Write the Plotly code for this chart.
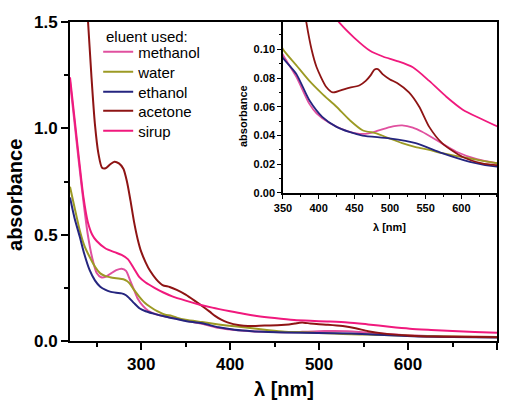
import plotly.graph_objects as go

# UV-Vis spectra of extracts obtained with different eluents
names = ["methanol", "water", "ethanol", "acetone", "sirup"]
colors = ["#e0509f", "#9c9a24", "#25257f", "#8e1414", "#f0197d"]

lam_methanol = [220, 225, 230, 235, 240, 245, 250, 255, 260, 265, 272, 278, 283, 288, 292, 296,
                302, 308, 315, 322, 330, 340, 350, 368.5, 387, 397, 416, 440, 457, 470, 481,
                494, 506, 517, 532, 545, 569, 593, 622, 650, 675, 700]
abs_methanol = [1.22, 1.03, 0.84, 0.66, 0.50, 0.39, 0.32, 0.30, 0.302, 0.315, 0.333, 0.340, 0.33,
                0.28, 0.24, 0.20, 0.165, 0.142, 0.128, 0.12, 0.113, 0.105, 0.096, 0.081, 0.062,
                0.0555, 0.0485, 0.043, 0.0412, 0.0415, 0.043, 0.045, 0.0465, 0.047, 0.0455,
                0.0426, 0.0356, 0.0287, 0.0235, 0.0207, 0.0197, 0.019]

lam_water = [220, 225, 231, 236, 242, 248, 254, 260, 265, 272, 280, 284, 287, 292, 298, 304, 310,
             318, 328, 333, 340, 350, 368.5, 387, 405, 425, 443.6, 461.5, 481, 499, 517, 536,
             555, 573, 612, 650, 700]
abs_water = [0.725, 0.63, 0.52, 0.45, 0.396, 0.35, 0.318, 0.305, 0.30, 0.295, 0.29, 0.282, 0.271,
             0.24, 0.208, 0.18, 0.161, 0.14, 0.122, 0.12, 0.11, 0.100, 0.089, 0.078, 0.069,
             0.060, 0.0507, 0.0437, 0.0415, 0.038, 0.0347, 0.032, 0.030, 0.0277, 0.024,
             0.0207, 0.019]

lam_ethanol = [220, 225, 231, 236, 242, 248, 254, 260, 265, 272, 278, 283, 287, 292, 298, 305,
               313, 328, 340, 350, 368.5, 387, 405, 425, 443, 461.5, 499, 536, 573, 612, 650, 700]
abs_ethanol = [0.675, 0.58, 0.49, 0.41, 0.334, 0.285, 0.255, 0.24, 0.232, 0.227, 0.224, 0.215,
               0.20, 0.178, 0.154, 0.14, 0.13, 0.114, 0.103, 0.094, 0.083, 0.0645, 0.053, 0.046,
               0.0425, 0.040, 0.038, 0.0347, 0.0277, 0.0217, 0.0183, 0.017]

lam_acetone = [236, 240, 244, 248, 252, 256, 260, 265, 270, 275, 280, 284, 288, 292, 296, 300,
               305, 310, 317, 324, 332, 340, 350, 360, 370, 377, 383, 390, 397, 410.7, 420,
               438.7, 457.5, 466, 473, 478, 483, 490, 500, 510, 526.6, 541, 555, 573, 602, 629,
               650, 700]
abs_acetone = [1.75, 1.52, 1.25, 1.02, 0.88, 0.815, 0.812, 0.83, 0.843, 0.835, 0.81, 0.75, 0.66,
               0.56, 0.48, 0.42, 0.37, 0.33, 0.29, 0.263, 0.254, 0.24, 0.218, 0.19, 0.16, 0.138,
               0.118, 0.10, 0.0877, 0.0738, 0.070, 0.0727, 0.075, 0.078, 0.082, 0.0858, 0.0862,
               0.0825, 0.079, 0.0765, 0.070, 0.060, 0.046, 0.0347, 0.025, 0.0206, 0.0194, 0.018]

lam_sirup = [220, 225, 230, 235, 240, 245, 250, 260, 270, 278, 285, 292, 298, 305, 315, 325, 335,
             350, 365, 380, 400, 415, 430, 450, 472, 490, 509, 532, 555, 579, 602, 626, 650,
             675, 700]
abs_sirup = [1.24, 1.05, 0.86, 0.68, 0.56, 0.50, 0.47, 0.435, 0.418, 0.405, 0.385, 0.34, 0.30,
             0.275, 0.25, 0.228, 0.21, 0.19, 0.172, 0.157, 0.14, 0.128, 0.118, 0.108, 0.099,
             0.095, 0.092, 0.0875, 0.078, 0.067, 0.058, 0.052, 0.0465, 0.042, 0.039]

series = [
    (lam_methanol, abs_methanol),
    (lam_water, abs_water),
    (lam_ethanol, abs_ethanol),
    (lam_acetone, abs_acetone),
    (lam_sirup, abs_sirup),
]

FONT = "Liberation Sans, Arial, sans-serif"

# one legend per entry so the rows sit tightly under the heading
legend_ids = ["legend", "legend2", "legend3", "legend4", "legend5"]
legend_tops = [0.9576, 0.8949, 0.8322, 0.7727, 0.7100]

fig = go.Figure()

for name, color, (lam, ab), lid in zip(names, colors, series, legend_ids):
    fig.add_trace(go.Scatter(
        x=lam, y=ab, name=name, mode="lines", legend=lid,
        line=dict(color=color, width=2, shape="spline", smoothing=0.7),
        xaxis="x", yaxis="y",
    ))

for name, color, (lam, ab) in zip(names, colors, series):
    fig.add_trace(go.Scatter(
        x=lam, y=ab, name=name, mode="lines", showlegend=False,
        line=dict(color=color, width=1.8, shape="spline", smoothing=0.7),
        xaxis="x2", yaxis="y2",
    ))

main_axis = dict(
    showgrid=False, zeroline=False, showline=True, linecolor="black", linewidth=2,
    mirror=True, ticks="outside", ticklen=7, tickwidth=2, tickcolor="black",
    tickfont=dict(family=FONT, size=17, color="black", weight="bold"),
)
inset_axis = dict(
    showgrid=False, zeroline=False, showline=True, linecolor="black", linewidth=1.5,
    mirror=True, ticks="outside", ticklen=4, tickwidth=1.2, tickcolor="black",
    tickfont=dict(family=FONT, size=11, color="black", weight="bold"),
)

legend_style = dict(
    x=0.066, xanchor="left", yanchor="top",
    bgcolor="rgba(0,0,0,0)", borderwidth=0,
    font=dict(family=FONT, size=15, color="black"),
    itemwidth=30,
)

layout_legends = {lid: dict(legend_style, y=top) for lid, top in zip(legend_ids, legend_tops)}

fig.update_layout(
    width=511, height=405,
    margin=dict(l=70, r=14, t=22, b=64),
    paper_bgcolor="white", plot_bgcolor="white",
    font=dict(family=FONT, color="black"),
    xaxis=dict(main_axis, range=[220, 700], tickvals=[300, 400, 500, 600, 700],
               minor=dict(dtick=50, tick0=0, ticklen=4, tickwidth=1.5, ticks="outside",
                          tickcolor="black"),
               domain=[0, 1]),
    yaxis=dict(main_axis, range=[0, 1.5], tickvals=[0, 0.5, 1.0, 1.5], tickformat=".1f",
               minor=dict(dtick=0.25, tick0=0, ticklen=4, tickwidth=1.5, ticks="outside",
                          tickcolor="black"),
               domain=[0, 1]),
    xaxis2=dict(inset_axis, range=[350, 650], tickvals=[350, 400, 450, 500, 550, 600],
                minor=dict(dtick=25, tick0=0, ticklen=2.5, tickwidth=1, ticks="outside",
                           tickcolor="black"),
                domain=[0.4988, 1.0], anchor="y2"),
    yaxis2=dict(inset_axis, range=[0, 0.119], tickvals=[0, 0.02, 0.04, 0.06, 0.08, 0.10],
                tickformat=".2f",
                minor=dict(dtick=0.01, tick0=0, ticklen=2.5, tickwidth=1, ticks="outside",
                           tickcolor="black"),
                domain=[0.464, 1.0], anchor="x2"),
    annotations=[
        dict(text="eluent used:", x=(104 - 70) / 427, y=(341 - 36) / 319,
             xref="paper", yref="paper", showarrow=False, xanchor="left", yanchor="middle",
             font=dict(family=FONT, size=15, color="black")),
        dict(text="<b>absorbance</b>", x=-0.1288, y=0.4577, xref="paper", yref="paper",
             textangle=-90, showarrow=False, xanchor="center", yanchor="middle",
             font=dict(family=FONT, size=20, color="black")),
        dict(text="<b>λ [nm]</b>", x=0.5, y=-0.1505, xref="paper", yref="paper",
             showarrow=False, xanchor="center", yanchor="middle",
             font=dict(family=FONT, size=20, color="black")),
        dict(text="<b>absorbance</b>", x=0.405, y=0.705, xref="paper", yref="paper",
             textangle=-90, showarrow=False, xanchor="center", yanchor="middle",
             font=dict(family=FONT, size=11, color="black")),
        dict(text="<b>λ [nm]</b>", x=0.749, y=0.357, xref="paper", yref="paper",
             showarrow=False, xanchor="center", yanchor="middle",
             font=dict(family=FONT, size=11, color="black")),
    ],
    **layout_legends,
)

fig.write_html("out.html")
